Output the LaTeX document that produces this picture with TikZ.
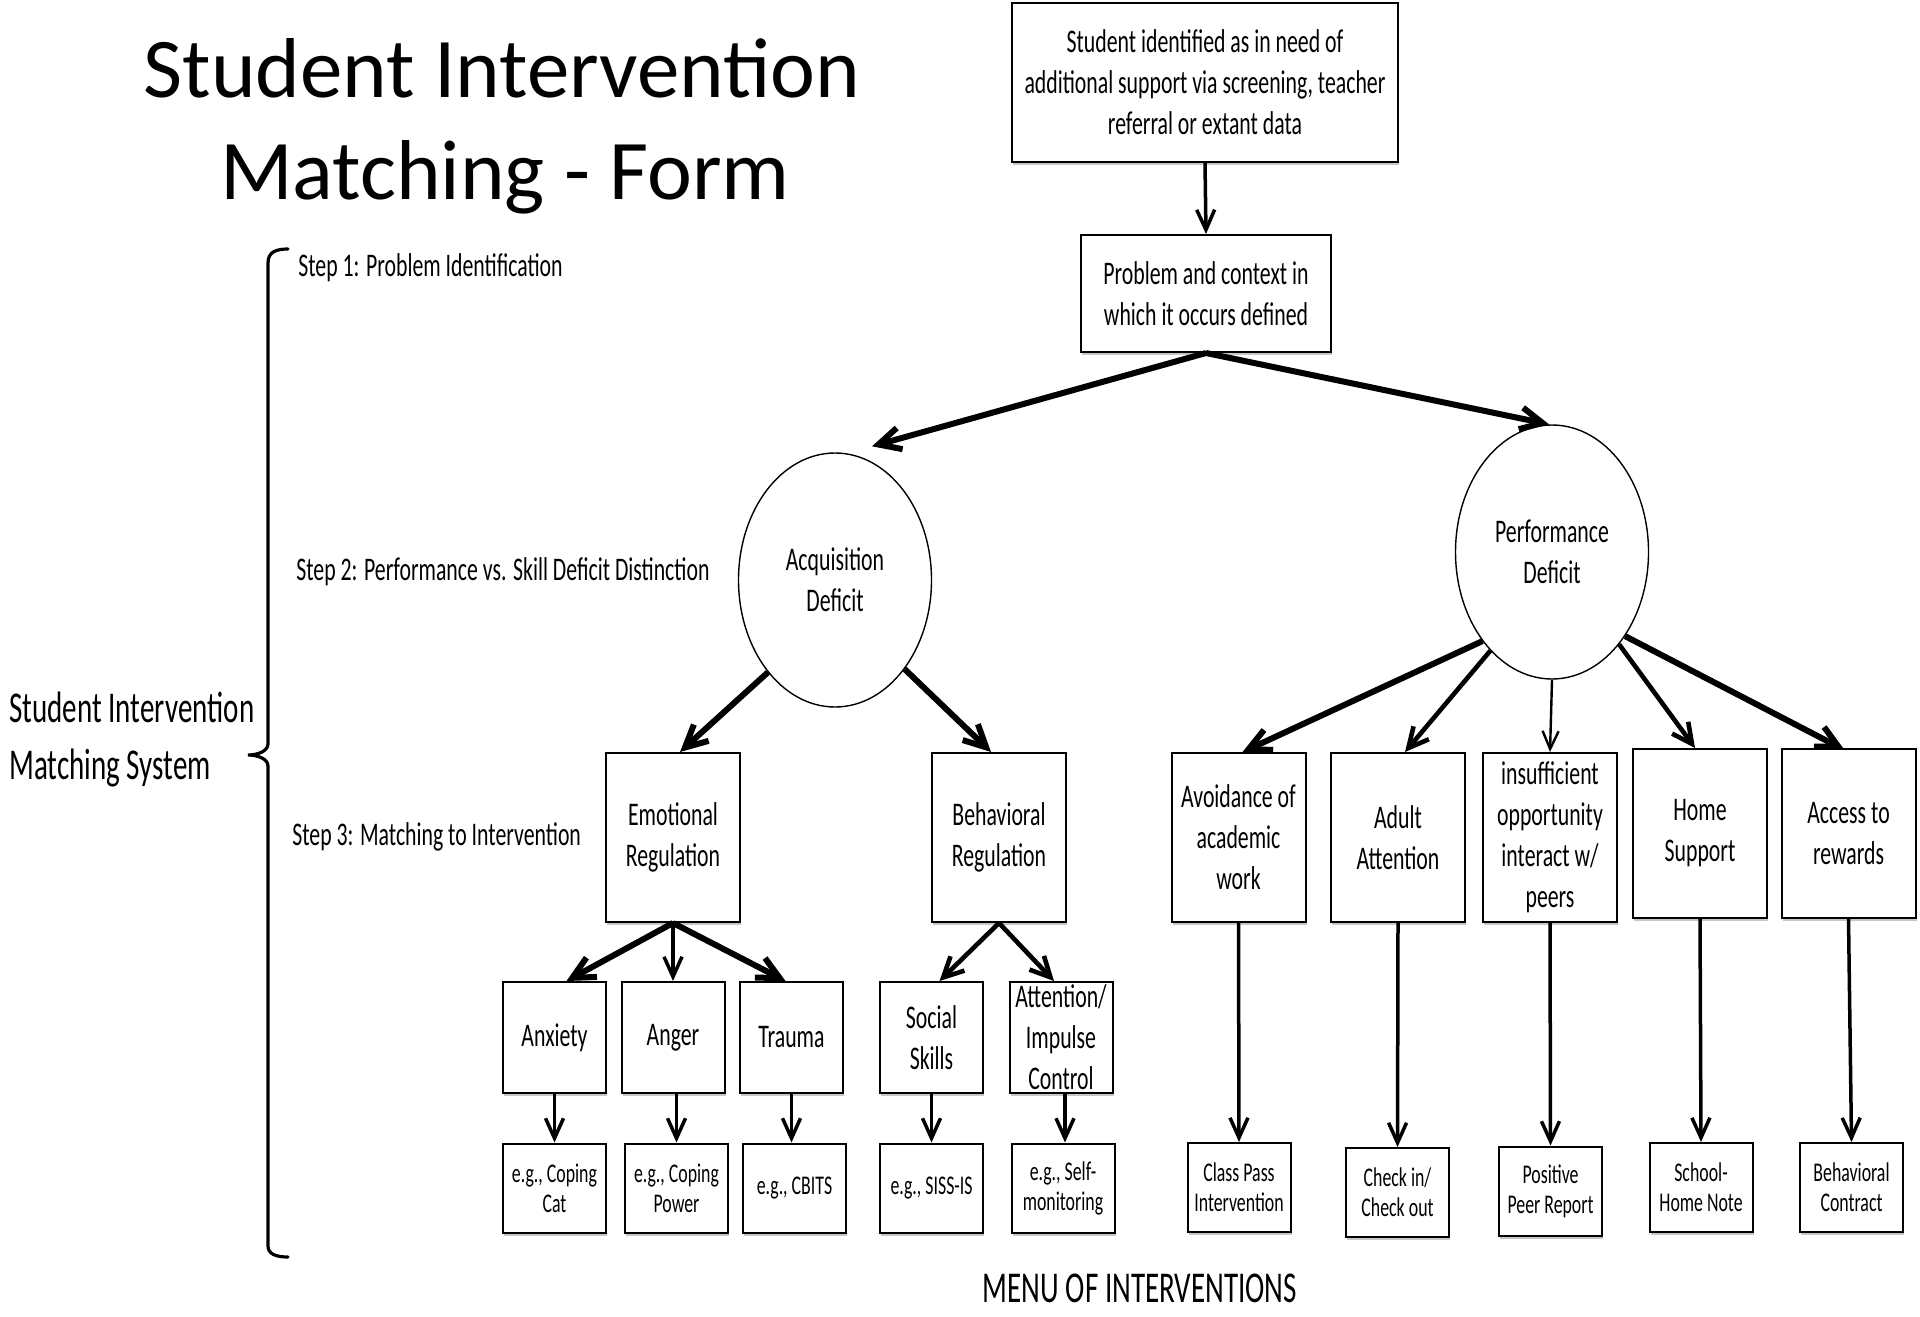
\documentclass[tikz,border=0pt]{standalone}
\usepackage{fontspec}
\setmainfont{Carlito}
\newfontfamily\cond[FakeStretch=0.66]{Carlito}
\usetikzlibrary{arrows.meta,shapes.geometric,shadows,calc}

\tikzset{
  txt/.style={font=\cond\fontsize{16.5pt}{20.5pt}\selectfont, align=center, inner sep=0pt},
  smalltxt/.style={font=\cond\fontsize{13.5pt}{15pt}\selectfont, align=center, inner sep=0pt},
  boxbase/.style={draw, line width=1pt, fill=white,
    drop shadow={shadow xshift=0.5pt, shadow yshift=-1.5pt, fill=black!22, opacity=1}},
  bigbox/.style={txt, boxbase},
  midbox/.style={txt, boxbase, minimum width=67pt, minimum height=84.5pt},
  catbox/.style={txt, boxbase, minimum width=51.5pt, minimum height=55.5pt},
  menubox/.style={smalltxt, boxbase, minimum width=51.5pt, minimum height=44.5pt},
  oval/.style={txt, ellipse, draw, line width=0.7pt, fill=white,
    minimum width=96.5pt, minimum height=127pt},
  steplbl/.style={txt, anchor=west, align=left},
  heavy/.style={line width=3pt, -{Straight Barb[length=11pt,width=11pt]}},
  medium/.style={line width=2.3pt, -{Straight Barb[length=10pt,width=10pt]}},
  plain/.style={line width=1.75pt, -{Straight Barb[length=10pt,width=9pt]}},
  slim/.style={line width=1.2pt, -{Straight Barb[length=9pt,width=8pt]}},
}

\begin{document}
\begin{tikzpicture}[x=0.5pt, y=-0.5pt]
\useasboundingbox (0,0) rectangle (1920,1316);

% title
\node[font=\fontsize{42.5pt}{50pt}\selectfont, anchor=base, inner sep=0pt] (title1) at (502,98) {Student Intervention};
\node[font=\fontsize{42.5pt}{50pt}\selectfont, anchor=base, inner sep=0pt] (title2) at (505,200) {Matching - Form};

% brace grouping the three steps
\coordinate (bt) at (288,249);
\coordinate (bm) at (248,755);
\coordinate (bb) at (288,1257);
\draw[line width=1.6pt, line cap=round]
  (bt) .. controls (276,249) and (268,252) .. (268,263)
  -- (268,744) .. controls (268,751) and (258,755) .. (bm)
  .. controls (258,755) and (268,759) .. (268,766)
  -- (268,1246) .. controls (268,1254) and (276,1257) .. (bb);

\node[font=\cond\fontsize{22pt}{28.5pt}\selectfont, align=left, anchor=west, inner sep=0pt] (system) at (9,739)
  {Student Intervention\\Matching System};

\node[steplbl] (step1) at (298,268) {Step 1: Problem Identification};
\node[steplbl] (step2) at (296,572) {Step 2: Performance vs. Skill Deficit Distinction};
\node[steplbl] (step3) at (292,837) {Step 3: Matching to Intervention};

% top of the decision tree
\node[bigbox, minimum width=193pt, minimum height=79.5pt] (ident) at (1205,82.5)
  {Student identified as in need of\\additional support via screening, teacher\\referral or extant data};
\node[bigbox, minimum width=125pt, minimum height=58.5pt] (context) at (1206,293.5)
  {Problem and context in\\which it occurs defined};

\node[oval] (acq) at (835,580) {Acquisition\\Deficit};
\node[oval] (perf) at (1552,552) {Performance\\Deficit};

% acquisition branch
\node[midbox] (emo) at (673,837.5) {Emotional\\Regulation};
\node[midbox] (beh) at (999,837.5) {Behavioral\\Regulation};

\node[catbox] (anx) at (554.5,1037.5) {Anxiety};
\node[catbox] (ang) at (673,1037.5) {Anger};
\node[catbox] (tra) at (791.5,1037.5) {Trauma};
\node[catbox] (soc) at (931.5,1037.5) {Social\\Skills};
\node[catbox] (att) at (1061,1037.5) {Attention/\\Impulse\\Control};

\node[menubox] (cat) at (554.5,1188) {e.g., Coping\\Cat};
\node[menubox] (pow) at (676.5,1188) {e.g., Coping\\Power};
\node[menubox] (cbi) at (794.5,1188) {e.g., CBITS};
\node[menubox] (sis) at (931.5,1188) {e.g., SISS-IS};
\node[menubox] (smo) at (1063,1188) {e.g., Self-\\monitoring};

% performance branch
\node[midbox] (avo) at (1238.5,837.5) {Avoidance of\\academic\\work};
\node[midbox] (adu) at (1398,837.5) {Adult\\Attention};
\node[midbox] (ins) at (1550,837.5) {insufficient\\opportunity\\interact w/\\peers};
\node[midbox] (hom) at (1700,833.5) {Home\\Support};
\node[midbox] (acc) at (1848.5,833.5) {Access to\\rewards};

\node[menubox] (cls) at (1239,1187.5) {Class Pass\\Intervention};
\node[menubox] (chk) at (1397.5,1192.5) {Check in/\\Check out};
\node[menubox] (pos) at (1550.5,1191) {Positive\\Peer Report};
\node[menubox] (shn) at (1701,1187.5) {School-\\Home Note};
\node[menubox] (bct) at (1851.5,1187.5) {Behavioral\\Contract};

\node[font=\cond\fontsize{22pt}{26pt}\selectfont, inner sep=0pt, anchor=base] (menu) at (1140,1302) {MENU OF INTERVENTIONS};

% connectors
\draw[plain] (ident.south) -- (context.north);
\draw[heavy] (context.south) -- ($(acq.north)+(37,-6)$);
\draw[heavy] (context.south) -- ($(perf.north)+(-3,0)$);

\draw[heavy] (acq.234) -- ($(emo.north)+(7,0)$);
\draw[heavy] (acq.308) -- ($(beh.north)+(-8,0)$);

\draw[heavy] (perf.232) -- ($(avo.north)+(4,0)$);
\draw[medium] (perf.238) -- ($(adu.north)+(7,0)$);
\draw[slim] (perf.south) -- (ins.north);
\draw[medium] (perf.306) -- ($(hom.north)+(-5,0)$);
\draw[heavy] (perf.311) -- ($(acc.north)+(-4,2)$);

\draw[heavy] (emo.south) -- ($(anx.north)+(12,0)$);
\draw[plain] (emo.south) -- (ang.north);
\draw[heavy] (emo.south) -- ($(tra.north)+(-6,0)$);
\draw[medium] (beh.south) -- ($(soc.north)+(8,0)$);
\draw[medium] (beh.south) -- ($(att.north)+(-7,0)$);

\draw[plain] (anx.south) -- (cat.north);
\draw[plain] (pow.north |- ang.south) -- (pow.north);
\draw[plain] (tra.south) -- (tra.south |- cbi.north);
\draw[plain] (soc.south) -- (sis.north);
\draw[plain] ($(att.south)+(4,0)$) -- ($(att.south |- smo.north)+(4,0)$);

\draw[plain] (avo.south) -- (cls.north);
\draw[plain] (adu.south) -- (chk.north);
\draw[plain] (ins.south) -- (pos.north);
\draw[plain] (hom.south) -- (shn.north);
\draw[plain] (acc.south) -- (bct.north);
\end{tikzpicture}
\end{document}
